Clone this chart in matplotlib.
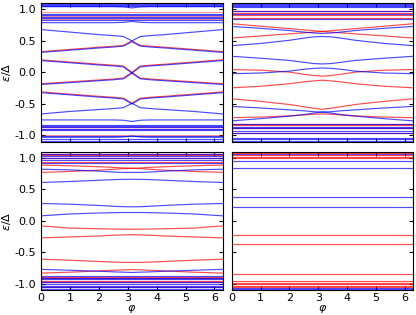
import numpy as np
import matplotlib.pyplot as plt

phi = [0.0, 1.0, 2.0, 2.5, 2.85, 3.1416, 3.43, 3.78, 4.28, 5.28, 6.2832]

# top left panel
tl_blue = [
    [0.68, 0.64, 0.60, 0.585, 0.57, 0.50, 0.57, 0.585, 0.60, 0.64, 0.68],
    [-0.66, -0.62, -0.59, -0.575, -0.56, -0.49, -0.56, -0.575, -0.59, -0.62, -0.66],
    [0.79, 0.79, 0.79, 0.79, 0.795, 0.81, 0.795, 0.79, 0.79, 0.79, 0.79],
    [-0.755, -0.755, -0.755, -0.755, -0.76, -0.78, -0.76, -0.755, -0.755, -0.755, -0.755],
    [1.045, 1.045, 1.045, 1.045, 1.04, 1.025, 1.04, 1.045, 1.045, 1.045, 1.045],
    [-1.03, -1.03, -1.03, -1.03, -1.025, -1.01, -1.025, -1.03, -1.03, -1.03, -1.03],
]
tl_pair = [
    [0.33, 0.365, 0.40, 0.415, 0.43, 0.50, 0.43, 0.415, 0.40, 0.365, 0.33],
    [0.20, 0.165, 0.13, 0.115, 0.10, 0.0, 0.10, 0.115, 0.13, 0.165, 0.20],
    [-0.18, -0.15, -0.12, -0.105, -0.09, 0.0, -0.09, -0.105, -0.12, -0.15, -0.18],
    [-0.31, -0.345, -0.38, -0.395, -0.41, -0.49, -0.41, -0.395, -0.38, -0.345, -0.31],
]
tl_flat_blue = [1.09, 1.075, 1.06, 0.925, 0.905, 0.885, 0.865, 0.84,
                -0.83, -0.85, -0.87, -0.895, -0.92, -1.01, -1.06, -1.085]
tl_flat_red = [0.96, 0.895, 0.85, -0.86, -0.905, -1.0]

# top right panel
tr_red = [
    [0.773, 0.734, 0.695, 0.675, 0.662, 0.65, 0.662, 0.675, 0.695, 0.734, 0.773],
    [0.546, 0.579, 0.612, 0.629, 0.64, 0.65, 0.64, 0.629, 0.612, 0.579, 0.546],
    [0.045, 0.035, 0.005, -0.03, -0.05, -0.06, -0.05, -0.03, 0.005, 0.035, 0.045],
    [-0.245, -0.22, -0.18, -0.15, -0.135, -0.124, -0.135, -0.15, -0.18, -0.22, -0.245],
    [-0.42, -0.46, -0.51, -0.545, -0.57, -0.585, -0.57, -0.545, -0.51, -0.46, -0.42],
    [-0.72, -0.71, -0.69, -0.675, -0.665, -0.66, -0.665, -0.675, -0.69, -0.71, -0.72],
]
tr_blue = [
    [0.73, 0.70, 0.665, 0.64, 0.625, 0.62, 0.625, 0.64, 0.665, 0.70, 0.73],
    [0.425, 0.46, 0.51, 0.545, 0.565, 0.57, 0.565, 0.545, 0.51, 0.46, 0.425],
    [0.256, 0.225, 0.19, 0.16, 0.14, 0.134, 0.14, 0.16, 0.19, 0.225, 0.256],
    [-0.02, -0.01, 0.02, 0.05, 0.065, 0.07, 0.065, 0.05, 0.02, -0.01, -0.02],
    [-0.54, -0.565, -0.595, -0.61, -0.625, -0.63, -0.625, -0.61, -0.595, -0.565, -0.54],
    [-0.77, -0.735, -0.695, -0.67, -0.645, -0.63, -0.645, -0.67, -0.695, -0.735, -0.77],
]
tr_flat_blue = [1.09, 1.075, 1.06, 1.04, 0.97, 0.93, 0.85,
                -0.826, -0.86, -0.89, -0.93, -0.97, -1.04, -1.065, -1.09]
tr_flat_red = [0.97, 0.95, 0.915, 0.87, -0.826, -0.84, -0.89, -0.97]

# bottom left panel
bl_red = [
    [0.887, 0.875, 0.86, 0.85, 0.84, 0.835, 0.84, 0.85, 0.86, 0.875, 0.887],
    [0.77, 0.785, 0.805, 0.82, 0.83, 0.835, 0.83, 0.82, 0.805, 0.785, 0.77],
    [-0.08, -0.115, -0.125, -0.13, -0.132, -0.133, -0.132, -0.13, -0.125, -0.115, -0.08],
    [-0.27, -0.255, -0.24, -0.228, -0.223, -0.22, -0.223, -0.228, -0.24, -0.255, -0.27],
    [-0.61, -0.625, -0.645, -0.655, -0.66, -0.66, -0.66, -0.655, -0.645, -0.625, -0.61],
    [-0.83, -0.815, -0.795, -0.785, -0.778, -0.775, -0.778, -0.785, -0.795, -0.815, -0.83],
]
bl_blue = [
    [0.82, 0.81, 0.79, 0.775, 0.77, 0.77, 0.77, 0.775, 0.79, 0.81, 0.82],
    [0.61, 0.625, 0.645, 0.655, 0.66, 0.66, 0.66, 0.655, 0.645, 0.625, 0.61],
    [0.276, 0.265, 0.245, 0.232, 0.225, 0.223, 0.225, 0.232, 0.245, 0.265, 0.276],
    [0.08, 0.11, 0.125, 0.13, 0.133, 0.133, 0.133, 0.13, 0.125, 0.11, 0.08],
    [-0.77, -0.785, -0.8, -0.81, -0.815, -0.82, -0.815, -0.81, -0.8, -0.785, -0.77],
]
bl_flat_blue = [1.09, 1.07, 1.03, 1.0, 0.97, 0.92,
                -0.88, -0.91, -0.93, -0.97, -1.0, -1.03, -1.05, -1.08]
bl_flat_red = [1.07, 1.05, 1.0, 0.94, -0.89, -0.91, -0.95, -0.97, -1.05]

# bottom right panel, levels do not move with phi
br_blue = [1.09, 1.07, 0.95, 0.834, 0.372, 0.227, -1.07, -1.09]
br_red = [1.08, 1.04, 1.02, 1.0, -0.23, -0.37, -0.845, -0.96, -0.99, -1.01, -1.03, -1.05]

lw = 0.85
al = 0.7


def draw_curves(ax, curves, color, shift=0.0):
    for c in curves:
        ax.plot(phi, np.array(c) + shift, color=color, lw=lw, alpha=al)


def draw_flat(ax, levels, color, a=al):
    for v in levels:
        ax.axhline(v, color=color, lw=lw, alpha=a)


fig, axs = plt.subplots(2, 2, figsize=(4.16, 3.15), dpi=100, sharex=True, sharey=True)
fig.subplots_adjust(left=0.099, right=0.993, top=0.99, bottom=0.079, wspace=0.05, hspace=0.072)

ax = axs[0, 0]
draw_flat(ax, tl_flat_red, 'red', 0.4)
draw_flat(ax, tl_flat_blue, 'blue')
draw_curves(ax, tl_pair, 'red')
draw_curves(ax, tl_pair, 'blue', -0.012)
draw_curves(ax, tl_blue, 'blue')

ax = axs[0, 1]
draw_flat(ax, tr_flat_red, 'red')
draw_flat(ax, tr_flat_blue, 'blue')
draw_curves(ax, tr_red, 'red')
draw_curves(ax, tr_blue, 'blue')

ax = axs[1, 0]
draw_flat(ax, bl_flat_red, 'red')
draw_flat(ax, bl_flat_blue, 'blue')
draw_curves(ax, bl_red, 'red')
draw_curves(ax, bl_blue, 'blue')

ax = axs[1, 1]
draw_flat(ax, br_blue, 'blue')
draw_flat(ax, br_red, 'red')

for ax in axs.flat:
    ax.set_xlim(0, 2 * np.pi)
    ax.set_ylim(-1.1, 1.1)
    ax.set_xticks([0, 1, 2, 3, 4, 5, 6])
    ax.set_yticks([-1.0, -0.5, 0.0, 0.5, 1.0])
    ax.yaxis.set_major_formatter(plt.FormatStrFormatter('%.1f'))
    ax.tick_params(direction='in', top=True, right=True, labelsize=8, length=3)
    ax.tick_params(axis='x', pad=2)

for ax in axs[:, 0]:
    ax.set_ylabel(r'$\varepsilon/\Delta$', fontsize=8, labelpad=1)
for ax in axs[1, :]:
    ax.set_xlabel(r'$\varphi$', fontsize=8, labelpad=0)

plt.savefig('out.png', dpi=100)
